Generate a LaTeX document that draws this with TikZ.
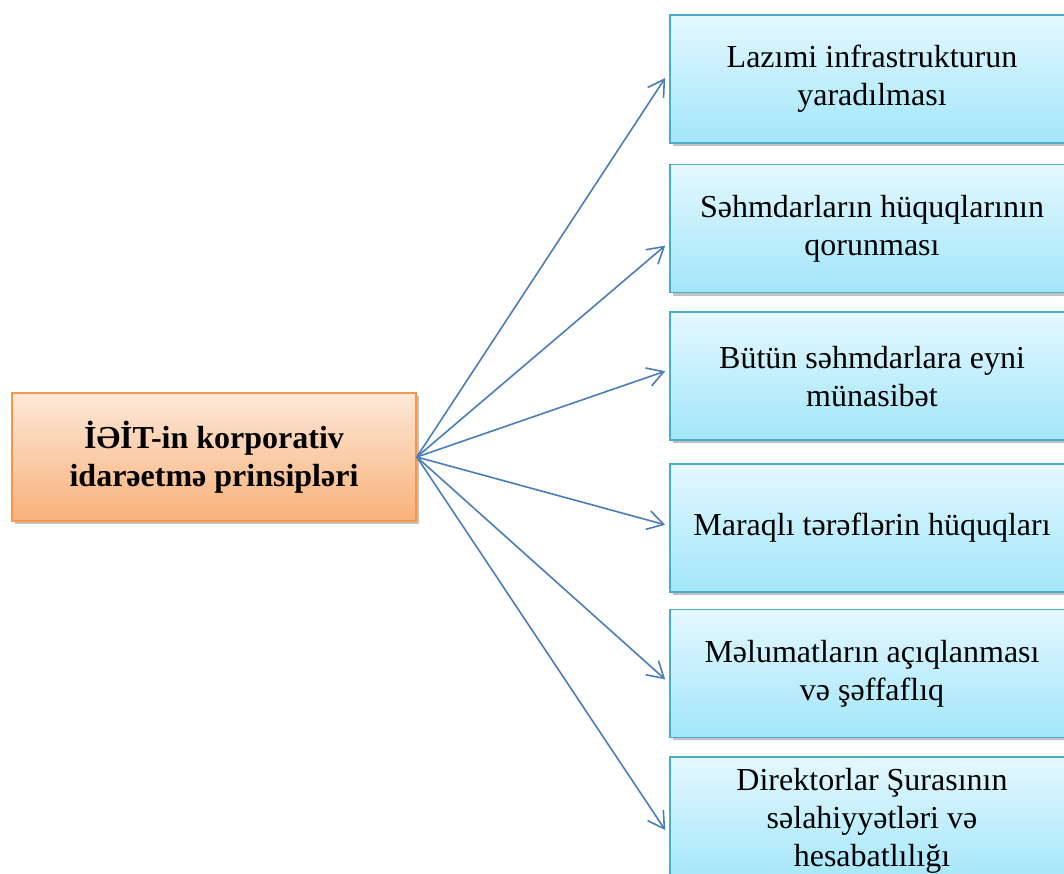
\documentclass[tikz,border=0pt]{standalone}
\usepackage{fontspec}
\setmainfont{Liberation Serif}
\usetikzlibrary{arrows.meta, positioning, shadows}
\definecolor{orangeline}{HTML}{F79646}
\definecolor{orangetop}{HTML}{FDE8D8}
\definecolor{orangebot}{HTML}{F9B17A}
\definecolor{blueline}{HTML}{4BACC6}
\definecolor{bluetop}{HTML}{E4F8FE}
\definecolor{bluebot}{HTML}{A2E6FA}
\definecolor{arrowblue}{HTML}{4A7EBB}

\begin{document}
\begin{tikzpicture}[
    x=1pt, y=-1pt,
    box/.style={rectangle, draw=blueline, line width=1.6pt, top color=bluetop, bottom color=bluebot,
      minimum width=404pt, minimum height=128pt, inner sep=0pt, align=center,
      font=\fontsize{32}{38}\selectfont,
      drop shadow={shadow xshift=3pt, shadow yshift=-3pt, opacity=0.35, fill=black!70}},
    mainbox/.style={box, draw=orangeline, top color=orangetop, bottom color=orangebot,
      font=\fontsize{32}{38}\selectfont\bfseries},
    arrow/.style={-{Straight Barb[length=16pt, width=19pt, line width=1.6pt]}, draw=arrowblue, line width=1.6pt}
]
\clip (0,0) rectangle (1064,873);

\node[mainbox] (src) at (214,457) {İƏİT-in korporativ\\idarəetmə prinsipləri};

\node[box] (infra) at (872,79) {Lazımi infrastrukturun\\yaradılması};
\node[box, below=20pt of infra] (huquq) {Səhmdarların hüquqlarının\\qorunması};
\node[box, below=18pt of huquq] (munasibet) {Bütün səhmdarlara eyni\\münasibət};
\node[box, below=22pt of munasibet] (teref) {Maraqlı tərəflərin hüquqları};
\node[box, below=16pt of teref] (melumat) {Məlumatların açıqlanması\\və şəffaflıq};
\node[box, below=18pt of melumat] (sura) {Direktorlar Şurasının\\səlahiyyətləri və\\hesabatlılığı};

\draw[arrow] (src.east) -- ([xshift=-4pt, yshift=1pt]infra.west);
\draw[arrow] (src.east) -- ([xshift=-4pt, yshift=-17pt]huquq.west);
\draw[arrow] (src.east) -- ([xshift=-4pt, yshift=5pt]munasibet.west);
\draw[arrow] (src.east) -- ([xshift=-4pt, yshift=3pt]teref.west);
\draw[arrow] (src.east) -- ([xshift=-4pt, yshift=-6pt]melumat.west);
\draw[arrow] (src.east) -- ([xshift=-4pt, yshift=-9pt]sura.west);
\end{tikzpicture}
\end{document}
